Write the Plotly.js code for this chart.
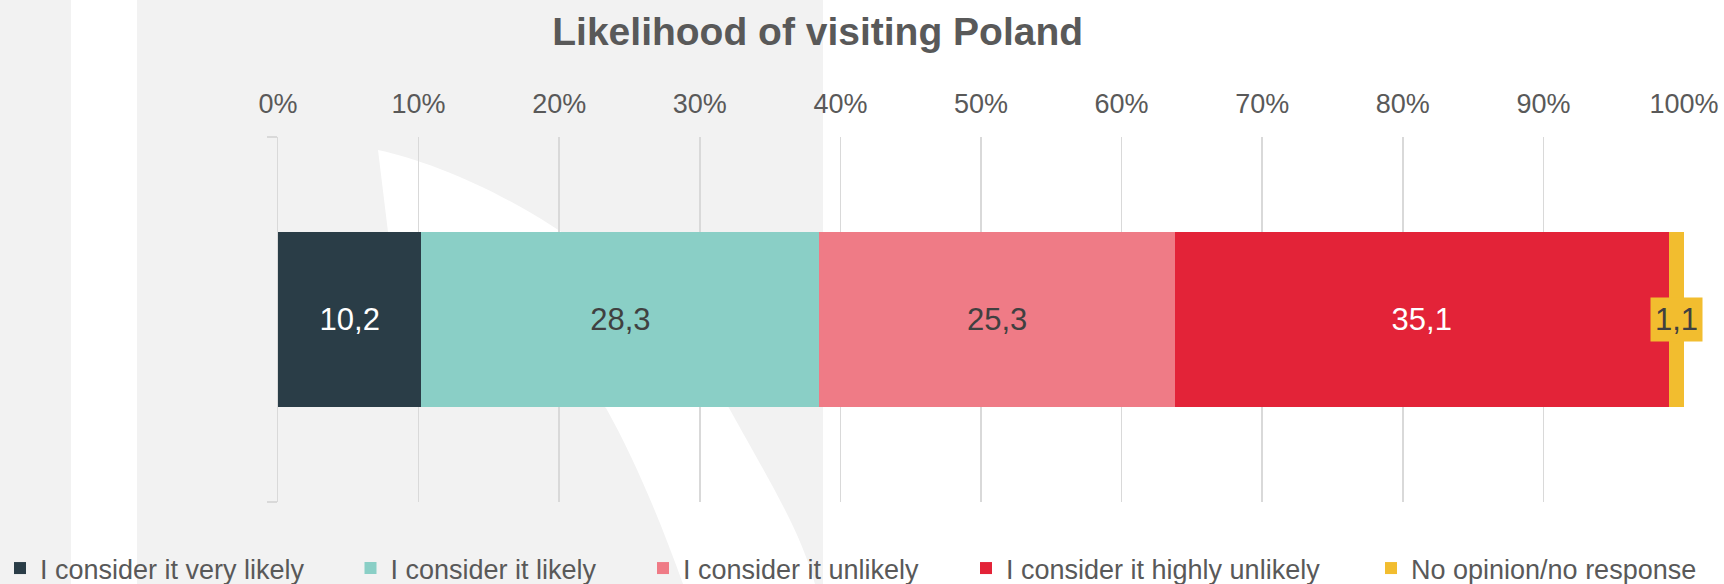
<!DOCTYPE html>
<html lang="en">

<head>
    <meta charset="UTF-8">
    <title>Likelihood of visiting Poland</title>
    <script src="https://cdn.plot.ly/plotly-3.0.1.min.js"></script>
    <style>
        body {
            margin: 0;
            width: 1724px;
            height: 584px;
            overflow: hidden;
            /* grey brand strips behind the chart */
            background: linear-gradient(to right, #f2f2f2 0 71px, #ffffff 71px 137px, #f2f2f2 137px 823px, #ffffff 823px);
        }

        #backdrop,
        #chart {
            position: absolute;
            left: 0;
            top: 0;
            width: 1724px;
            height: 584px;
        }
    </style>
</head>

<body>
    <svg id="backdrop" width="1724" height="584">
        <!-- white swoosh watermark -->
        <path fill="#ffffff"
            d="M378,150 C480,172 650,262 729,408 C770,482 800,530 815,584 L683,584 C660,520 635,460 606,408 C520,330 400,280 388,232 Z" />
    </svg>
    <div id="chart"></div>

    <script>
        const categories = [
            'I consider it very likely',
            'I consider it likely',
            'I consider it unlikely',
            'I consider it highly unlikely',
            'No opinion/no response'
        ];
        const shares = [10.2, 28.3, 25.3, 35.1, 1.1];
        const tickValues = [0, 10, 20, 30, 40, 50, 60, 70, 80, 90, 100];
        const tickLabels = ['0%', '10%', '20%', '30%', '40%', '50%', '60%', '70%', '80%', '90%', '100%'];

        const colors = ['#2a3d47', '#8acfc6', '#ef7b86', '#e32338', '#f2bd2f'];
        const labelColors = ['#ffffff', '#404040', '#404040', '#ffffff', '#404040'];
        const FONT = '"Liberation Sans", Arial, sans-serif';
        const GREY = '#595959';

        // where each legend label text starts (px)
        const legendTextX = [37, 390.5, 683, 1006, 1411];

        const traces = categories.map((name, i) => ({
            type: 'bar',
            orientation: 'h',
            name: name,
            x: [shares[i]],
            y: [0],
            marker: { color: colors[i] },
            texttemplate: '%{x:.1f}',
            textposition: i === shares.length - 1 ? 'none' : 'inside',
            insidetextanchor: 'middle',
            textfont: { family: FONT, size: 31, color: labelColors[i] },
            legend: 'legend' + (i + 2),
            showlegend: true,
            hoverinfo: 'name+x'
        }));

        const layout = {
            width: 1724,
            height: 584,
            barmode: 'stack',
            bargap: 0.518,
            separators: ', ',
            showlegend: true,
            paper_bgcolor: 'rgba(0,0,0,0)',
            plot_bgcolor: 'rgba(0,0,0,0)',
            margin: { l: 278, r: 40, t: 137, b: 82 },
            font: { family: FONT, color: GREY },
            title: {
                text: 'Likelihood of visiting Poland',
                font: { family: FONT, size: 39, color: GREY, weight: 'bold' },
                xref: 'container',
                yref: 'container',
                x: 817.7 / 1724,
                xanchor: 'center',
                y: 1 - 31.5 / 584,
                yanchor: 'middle'
            },
            xaxis: {
                side: 'top',
                range: [0, 100],
                tickvals: tickValues,
                ticktext: tickLabels,
                tickfont: { family: FONT, size: 27, color: GREY },
                ticklabelstandoff: 18,
                showgrid: true,
                gridcolor: '#d9d9d9',
                gridwidth: 1.5,
                zeroline: false,
                showline: false,
                fixedrange: true
            },
            yaxis: {
                range: [-0.5, 0.5],
                tickvals: [-0.5, 0.5],
                showticklabels: false,
                ticks: 'outside',
                ticklen: 10,
                tickwidth: 1.5,
                tickcolor: '#d9d9d9',
                showline: true,
                linecolor: '#d9d9d9',
                linewidth: 1.5,
                showgrid: false,
                zeroline: false,
                fixedrange: true
            },
            annotations: [{
                // small last segment gets its label in a box
                x: 100 - shares[shares.length - 1] / 2,
                y: 0,
                xref: 'x',
                yref: 'y',
                text: shares[shares.length - 1].toFixed(1).replace('.', ','),
                showarrow: false,
                bgcolor: colors[colors.length - 1],
                borderpad: 4,
                font: { family: FONT, size: 31, color: '#404040' }
            }]
        };

        // one legend per series so every entry sits where it does in the source
        legendTextX.forEach((px, i) => {
            layout['legend' + (i + 2)] = {
                orientation: 'h',
                xref: 'container',
                yref: 'container',
                x: Math.max(0, (px - 40) / 1724),
                xanchor: 'left',
                y: 1 - 568.5 / 584,
                yanchor: 'middle',
                bgcolor: 'rgba(0,0,0,0)',
                borderwidth: 0,
                font: { family: FONT, size: 27, color: GREY }
            };
        });

        Plotly.newPlot('chart', traces, layout, { displayModeBar: false, staticPlot: true });
    </script>
</body>

</html>
